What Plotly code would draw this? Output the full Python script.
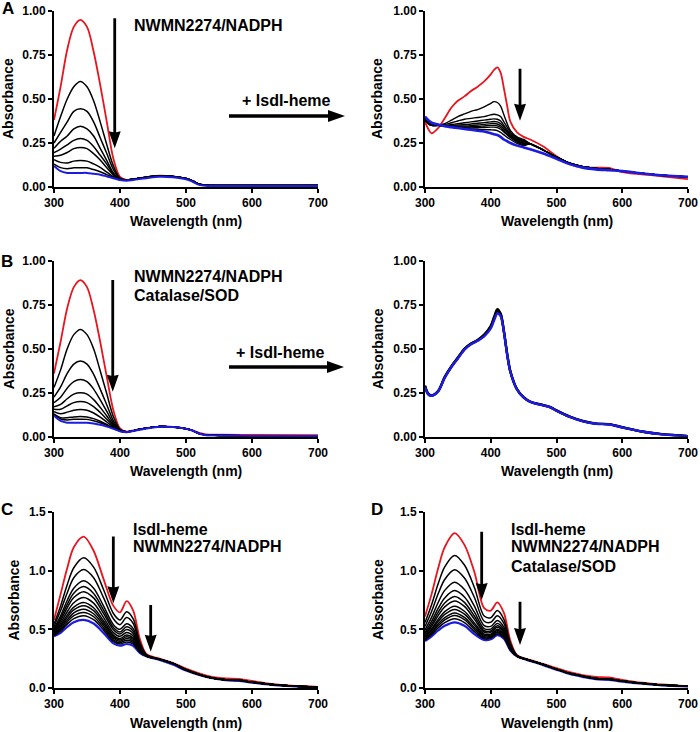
import plotly.graph_objects as go

# ---------------- DATA ----------------
# Panel A (left): NWMN2274/NADPH
wl_a1 = [300, 310, 320, 330, 340, 350, 360, 370, 380, 390, 400,
         410, 420, 440, 460, 480, 500, 510, 520, 530, 550, 600, 700]
a1_tail = [0.040, 0.045, 0.056, 0.064, 0.060, 0.048, 0.035, 0.016, 0.010, 0.008, 0.008, 0.008]
a1_blue_tail = [0.036, 0.040, 0.050, 0.058, 0.055, 0.044, 0.030, 0.012, 0.007, 0.006, 0.006, 0.006]
a1_red = [0.38, 0.57, 0.78, 0.91, 0.95, 0.91, 0.77, 0.58, 0.37, 0.16, 0.057]
a1_black = [
    [0.29, 0.40, 0.50, 0.57, 0.60, 0.57, 0.49, 0.37, 0.24, 0.12, 0.050],
    [0.25, 0.31, 0.37, 0.43, 0.445, 0.43, 0.37, 0.28, 0.19, 0.10, 0.047],
    [0.22, 0.26, 0.29, 0.33, 0.345, 0.33, 0.29, 0.22, 0.15, 0.08, 0.045],
    [0.195, 0.215, 0.24, 0.265, 0.275, 0.265, 0.23, 0.18, 0.13, 0.075, 0.044],
    [0.175, 0.18, 0.196, 0.218, 0.225, 0.218, 0.19, 0.154, 0.11, 0.069, 0.043],
    [0.155, 0.14, 0.136, 0.147, 0.15, 0.147, 0.131, 0.111, 0.085, 0.059, 0.041],
    [0.13, 0.11, 0.104, 0.109, 0.11, 0.109, 0.099, 0.087, 0.07, 0.054, 0.04],
]
a1_blue = [0.12, 0.09, 0.08, 0.08, 0.08, 0.08, 0.075, 0.07, 0.06, 0.05, 0.04]

# Panel A (right): + IsdI-heme
wl_a2 = [300, 305, 310, 320, 330, 340, 350, 360, 370, 380, 390, 400, 405, 410, 415,
         420, 425, 430, 440, 450, 460, 480, 500, 520, 540, 560, 580, 600, 650, 700]
a2_red = [0.37, 0.33, 0.305, 0.335, 0.39, 0.45, 0.49, 0.515, 0.545, 0.57,
          0.60, 0.64, 0.665, 0.68, 0.65, 0.56, 0.46, 0.37, 0.31, 0.285,
          0.27, 0.23, 0.175, 0.13, 0.11, 0.11, 0.108, 0.085, 0.065, 0.045]
a2_black = [
    [0.38, 0.36, 0.35, 0.35, 0.36, 0.38, 0.40, 0.415, 0.43, 0.44, 0.455, 0.475, 0.485, 0.48, 0.46, 0.41, 0.36, 0.32, 0.285, 0.27],
    [0.38, 0.36, 0.35, 0.35, 0.355, 0.365, 0.375, 0.385, 0.39, 0.395, 0.40, 0.41, 0.413, 0.41, 0.40, 0.37, 0.34, 0.31, 0.28, 0.265],
    [0.38, 0.36, 0.35, 0.35, 0.35, 0.355, 0.36, 0.365, 0.37, 0.375, 0.38, 0.385, 0.387, 0.385, 0.375, 0.35, 0.325, 0.30, 0.275, 0.26],
    [0.385, 0.365, 0.355, 0.35, 0.35, 0.35, 0.352, 0.355, 0.358, 0.362, 0.366, 0.37, 0.372, 0.37, 0.36, 0.34, 0.315, 0.295, 0.27, 0.255],
    [0.39, 0.37, 0.36, 0.35, 0.348, 0.346, 0.346, 0.347, 0.349, 0.352, 0.356, 0.36, 0.361, 0.358, 0.348, 0.33, 0.31, 0.29, 0.265, 0.25],
    [0.39, 0.37, 0.36, 0.35, 0.347, 0.344, 0.342, 0.341, 0.342, 0.344, 0.347, 0.35, 0.35, 0.347, 0.338, 0.32, 0.30, 0.285, 0.26, 0.245],
    [0.39, 0.372, 0.362, 0.352, 0.346, 0.342, 0.339, 0.337, 0.336, 0.337, 0.338, 0.34, 0.34, 0.337, 0.328, 0.312, 0.295, 0.28, 0.255, 0.24],
    [0.395, 0.375, 0.363, 0.353, 0.345, 0.34, 0.336, 0.333, 0.33, 0.328, 0.326, 0.325, 0.324, 0.32, 0.31, 0.296, 0.282, 0.27, 0.248, 0.235],
]
a2_black_tail = [0.245, 0.21, 0.17, 0.135, 0.115, 0.105, 0.10, 0.09, 0.07, 0.057]
a2_blue = [0.40, 0.38, 0.365, 0.355, 0.345, 0.34, 0.335, 0.33, 0.325, 0.32,
           0.315, 0.305, 0.30, 0.295, 0.285, 0.27, 0.26, 0.25, 0.235, 0.225,
           0.215, 0.19, 0.16, 0.13, 0.11, 0.10, 0.095, 0.09, 0.07, 0.058]

# Panel B (left): NWMN2274/NADPH + Catalase/SOD
wl_b1 = wl_a1
b1_red = [0.36, 0.54, 0.73, 0.85, 0.89, 0.85, 0.72, 0.54, 0.34, 0.15, 0.048]
b1_red_tail = [0.030, 0.036, 0.049, 0.058, 0.056, 0.047, 0.037, 0.022, 0.014, 0.012, 0.011, 0.010]
b1_black = [
    [0.28, 0.38, 0.50, 0.58, 0.61, 0.58, 0.50, 0.375, 0.244, 0.114, 0.043],
    [0.225, 0.283, 0.36, 0.413, 0.43, 0.413, 0.355, 0.271, 0.181, 0.091, 0.039],
    [0.194, 0.225, 0.276, 0.313, 0.325, 0.313, 0.271, 0.21, 0.144, 0.077, 0.037],
    [0.171, 0.184, 0.216, 0.242, 0.25, 0.242, 0.211, 0.167, 0.118, 0.067, 0.035],
    [0.156, 0.156, 0.176, 0.194, 0.20, 0.194, 0.171, 0.138, 0.10, 0.061, 0.034],
    [0.143, 0.131, 0.14, 0.151, 0.155, 0.151, 0.135, 0.112, 0.084, 0.055, 0.034],
    [0.13, 0.109, 0.108, 0.113, 0.115, 0.113, 0.103, 0.088, 0.07, 0.05, 0.033],
    [0.126, 0.101, 0.096, 0.099, 0.10, 0.099, 0.091, 0.08, 0.065, 0.048, 0.032],
]
b1_tail = [0.028, 0.035, 0.048, 0.058, 0.056, 0.046, 0.035, 0.018, 0.010, 0.008, 0.006, 0.005]
b1_blue = [0.12, 0.09, 0.08, 0.08, 0.08, 0.08, 0.075, 0.068, 0.058, 0.045, 0.032]
b1_blue_tail = [0.026, 0.033, 0.047, 0.057, 0.055, 0.045, 0.034, 0.017, 0.009, 0.007, 0.005, 0.004]

# Panel B (right): + IsdI-heme
wl_b2 = [300, 305, 310, 320, 330, 340, 350, 360, 370, 380, 390, 400, 405, 410, 415, 420,
         425, 430, 440, 450, 460, 480, 490, 500, 520, 540, 560, 580, 600, 630, 660, 700]
b2_red = [0.28, 0.24, 0.233, 0.258, 0.336, 0.396, 0.446, 0.496, 0.526, 0.546, 0.575, 0.62, 0.665, 0.705, 0.69, 0.596,
          0.466, 0.366, 0.268, 0.223, 0.198, 0.178, 0.168, 0.148, 0.113, 0.088, 0.074, 0.07, 0.053, 0.029, 0.014, 0.004]
b2_black = [
    [0.29, 0.245, 0.235, 0.26, 0.34, 0.40, 0.45, 0.50, 0.53, 0.55, 0.58, 0.63, 0.68, 0.725, 0.70, 0.60,
     0.47, 0.37, 0.27, 0.225, 0.20, 0.18, 0.17, 0.15, 0.115, 0.09, 0.075, 0.072, 0.055, 0.03, 0.015, 0.004],
    [0.29, 0.243, 0.234, 0.26, 0.338, 0.398, 0.448, 0.498, 0.528, 0.548, 0.577, 0.625, 0.672, 0.715, 0.695, 0.598,
     0.468, 0.368, 0.269, 0.224, 0.199, 0.179, 0.169, 0.149, 0.114, 0.089, 0.075, 0.071, 0.054, 0.03, 0.015, 0.004],
]
b2_blue = [0.28, 0.24, 0.233, 0.258, 0.335, 0.395, 0.445, 0.495, 0.525, 0.545, 0.57, 0.615, 0.66, 0.70, 0.685, 0.595,
           0.465, 0.365, 0.268, 0.222, 0.198, 0.178, 0.168, 0.148, 0.113, 0.088, 0.074, 0.07, 0.053, 0.03, 0.014, 0.004]

# Panel C: IsdI-heme + NWMN2274/NADPH
wl_c = [300, 310, 320, 330, 345, 360, 375, 390, 400, 410, 420, 430, 440,
        460, 480, 500, 520, 540, 560, 580, 600, 630, 660, 700]
c_red = [0.58, 0.80, 1.02, 1.20, 1.29, 1.17, 0.93, 0.70, 0.645, 0.74, 0.66, 0.42, 0.29,
         0.25, 0.215, 0.165, 0.125, 0.095, 0.082, 0.078, 0.06, 0.035, 0.02, 0.01]
c_black = [
    [0.545, 0.70, 0.88, 1.025, 1.11, 1.03, 0.84, 0.635, 0.58, 0.65, 0.59, 0.39, 0.285],
    [0.525, 0.66, 0.81, 0.94, 1.01, 0.94, 0.77, 0.59, 0.54, 0.60, 0.55, 0.37, 0.28],
    [0.506, 0.616, 0.746, 0.851, 0.914, 0.851, 0.70, 0.54, 0.50, 0.547, 0.506, 0.356, 0.28],
    [0.496, 0.594, 0.712, 0.808, 0.864, 0.806, 0.666, 0.516, 0.478, 0.521, 0.484, 0.348, 0.278],
    [0.488, 0.575, 0.683, 0.771, 0.821, 0.768, 0.637, 0.496, 0.46, 0.499, 0.465, 0.341, 0.277],
    [0.478, 0.554, 0.65, 0.727, 0.772, 0.723, 0.602, 0.472, 0.44, 0.474, 0.444, 0.332, 0.275],
    [0.469, 0.535, 0.621, 0.69, 0.729, 0.684, 0.573, 0.451, 0.422, 0.452, 0.425, 0.325, 0.274],
    [0.464, 0.523, 0.602, 0.665, 0.701, 0.659, 0.553, 0.438, 0.41, 0.437, 0.413, 0.32, 0.273],
    [0.458, 0.51, 0.582, 0.641, 0.672, 0.633, 0.534, 0.424, 0.398, 0.422, 0.40, 0.316, 0.273],
    [0.453, 0.498, 0.563, 0.616, 0.644, 0.608, 0.514, 0.411, 0.387, 0.408, 0.388, 0.311, 0.272],
    [0.447, 0.486, 0.544, 0.591, 0.616, 0.582, 0.495, 0.397, 0.375, 0.393, 0.376, 0.306, 0.271],
]
c_black_tail = [0.245, 0.21, 0.155, 0.115, 0.085, 0.07, 0.065, 0.05, 0.03, 0.018, 0.01]
c_blue = [0.44, 0.47, 0.52, 0.56, 0.58, 0.55, 0.47, 0.38, 0.36, 0.375, 0.36, 0.30, 0.27,
          0.24, 0.20, 0.15, 0.112, 0.083, 0.067, 0.06, 0.046, 0.027, 0.015, 0.008]

# Panel D: IsdI-heme + NWMN2274/NADPH + Catalase/SOD
wl_d = wl_c
d_red = [0.61, 0.80, 1.02, 1.20, 1.32, 1.22, 0.99, 0.68, 0.66, 0.73, 0.64, 0.40, 0.28,
         0.24, 0.205, 0.17, 0.135, 0.11, 0.095, 0.09, 0.07, 0.045, 0.03, 0.015]
d_black = [
    [0.558, 0.71, 0.888, 1.033, 1.13, 1.048, 0.858, 0.613, 0.599, 0.66, 0.585, 0.38, 0.278],
    [0.524, 0.652, 0.803, 0.925, 1.008, 0.937, 0.773, 0.569, 0.56, 0.615, 0.55, 0.367, 0.276],
    [0.495, 0.602, 0.729, 0.832, 0.902, 0.84, 0.699, 0.532, 0.525, 0.576, 0.519, 0.356, 0.275],
    [0.475, 0.568, 0.678, 0.768, 0.83, 0.775, 0.648, 0.506, 0.502, 0.549, 0.498, 0.348, 0.274],
    [0.461, 0.544, 0.644, 0.724, 0.78, 0.73, 0.614, 0.488, 0.486, 0.531, 0.484, 0.343, 0.273],
    [0.45, 0.526, 0.617, 0.691, 0.742, 0.696, 0.587, 0.475, 0.474, 0.517, 0.473, 0.339, 0.272],
    [0.438, 0.505, 0.585, 0.651, 0.697, 0.654, 0.555, 0.459, 0.459, 0.50, 0.46, 0.334, 0.272],
    [0.43, 0.492, 0.567, 0.627, 0.67, 0.63, 0.537, 0.449, 0.451, 0.49, 0.452, 0.332, 0.271],
    [0.422, 0.478, 0.546, 0.60, 0.64, 0.602, 0.516, 0.438, 0.441, 0.479, 0.443, 0.328, 0.271],
    [0.416, 0.467, 0.53, 0.58, 0.617, 0.582, 0.50, 0.43, 0.433, 0.471, 0.437, 0.326, 0.27],
    [0.408, 0.454, 0.511, 0.557, 0.59, 0.558, 0.481, 0.421, 0.425, 0.461, 0.429, 0.323, 0.27],
]
d_black_tail = [0.235, 0.20, 0.16, 0.125, 0.10, 0.08, 0.075, 0.06, 0.04, 0.025, 0.015]
d_blue = [0.40, 0.44, 0.49, 0.53, 0.56, 0.53, 0.46, 0.41, 0.415, 0.45, 0.42, 0.32, 0.27,
          0.23, 0.195, 0.155, 0.12, 0.095, 0.075, 0.07, 0.055, 0.036, 0.022, 0.013]

# tick labels
x_ticks = [300, 400, 500, 600, 700]
y_ticks_ab = [0.0, 0.25, 0.5, 0.75, 1.0]
y_ticks_cd = [0.0, 0.5, 1.0, 1.5]

# ---------------- STYLE / LAYOUT ----------------
W, H = 700, 732
RED = '#e8141e'
BLUE = '#1c1ce0'
BLACK = '#000000'
FONT = 'Liberation Sans'


def px(xp):
    return xp / W


def py(yp):
    return 1 - yp / H


col_x = {0: [px(54), px(318)], 1: [px(425), px(688)]}
row_y = {0: [py(187), py(11)], 1: [py(436.8), py(260.7)], 2: [py(688), py(512)]}

fig = go.Figure()

panels = [  # (axis index, col, row)
    (1, 0, 0), (2, 1, 0), (3, 0, 1), (4, 1, 1), (5, 0, 2), (6, 1, 2)
]


def ax(i):
    return ('x' if i == 1 else f'x{i}'), ('y' if i == 1 else f'y{i}')


def add_line(i, x, y, color, width):
    xa, ya = ax(i)
    fig.add_trace(go.Scatter(x=x, y=y, mode='lines', xaxis=xa, yaxis=ya, showlegend=False,
                             hoverinfo='skip',
                             line=dict(color=color, width=width, shape='spline', smoothing=0.9)))


# Panel A left
add_line(1, wl_a1, a1_red + a1_tail, RED, 1.8)
for row in a1_black:
    add_line(1, wl_a1, row + a1_tail, BLACK, 1.5)
add_line(1, wl_a1, a1_blue + a1_blue_tail, BLUE, 2.0)

# Panel A right
add_line(2, wl_a2, a2_red, RED, 1.8)
for row in a2_black:
    add_line(2, wl_a2, row + a2_black_tail, BLACK, 1.4)
add_line(2, wl_a2, a2_blue, BLUE, 2.6)

# Panel B left
add_line(3, wl_b1, b1_red + b1_red_tail, RED, 1.8)
for row in b1_black:
    add_line(3, wl_b1, row + b1_tail, BLACK, 1.5)
add_line(3, wl_b1, b1_blue + b1_blue_tail, BLUE, 2.0)

# Panel B right
add_line(4, wl_b2, b2_red, RED, 2.0)
for row in b2_black:
    add_line(4, wl_b2, row, BLACK, 2.4)
add_line(4, wl_b2, b2_blue, BLUE, 2.4)

# Panel C
add_line(5, wl_c, c_blue, BLUE, 2.2)
add_line(5, wl_c, c_red, RED, 1.8)
for row in c_black:
    add_line(5, wl_c, row + c_black_tail, BLACK, 1.5)

# Panel D
add_line(6, wl_d, d_blue, BLUE, 2.2)
add_line(6, wl_d, d_red, RED, 1.8)
for row in d_black:
    add_line(6, wl_d, row + d_black_tail, BLACK, 1.5)

tickfont = dict(family=FONT, size=12, color='black', weight='bold')
layout = dict(width=W, height=H, margin=dict(l=0, r=0, t=0, b=0, pad=0, autoexpand=False),
              paper_bgcolor='white', plot_bgcolor='white', showlegend=False)

for i, c, r in panels:
    xk = 'xaxis' if i == 1 else f'xaxis{i}'
    yk = 'yaxis' if i == 1 else f'yaxis{i}'
    xa, ya = ax(i)
    layout[xk] = dict(domain=col_x[c], anchor=ya, range=[300, 700], tickvals=x_ticks,
                      showline=True, linecolor='black', linewidth=2, ticks='outside',
                      ticklen=4, tickwidth=2, tickcolor='black', showgrid=False,
                      zeroline=False, tickfont=tickfont, fixedrange=True, automargin=False)
    if r < 2:
        layout[yk] = dict(domain=row_y[r], anchor=xa, range=[0, 1.0], tickvals=y_ticks_ab,
                          tickformat='.2f')
    else:
        layout[yk] = dict(domain=row_y[r], anchor=xa, range=[0, 1.5], tickvals=y_ticks_cd,
                          tickformat='.1f')
    layout[yk].update(showline=True, linecolor='black', linewidth=2, ticks='outside',
                      ticklen=4, tickwidth=2, tickcolor='black', showgrid=False,
                      zeroline=False, tickfont=tickfont, fixedrange=True, automargin=False)

fig.update_layout(**layout)

annotations = []
tfont = dict(family=FONT, size=14, color='black', weight='bold')
# axis titles
title_x_px = {1: 8, 2: 377, 3: 8.5, 4: 377.5, 5: 13.5, 6: 378}
for i, c, r in panels:
    ymid = (row_y[r][0] + row_y[r][1]) / 2
    annotations.append(dict(text='Absorbance', x=px(title_x_px[i]), y=ymid, xref='paper', yref='paper',
                            textangle=-90, showarrow=False, font=tfont,
                            xanchor='center', yanchor='middle'))
    xmid = (col_x[c][0] + col_x[c][1]) / 2
    axis_px = {0: 187, 1: 436.8, 2: 688}[r]
    annotations.append(dict(text='Wavelength (nm)', x=xmid, y=py(axis_px + 34.5), xref='paper', yref='paper',
                            showarrow=False, font=tfont, xanchor='center', yanchor='middle'))

# panel letters
lfont = dict(family=FONT, size=17, color='black', weight='bold')
for letter, xl, yl in [('A', 7.5, 8), ('B', 7, 261), ('C', 7, 509.5), ('D', 377, 509.5)]:
    annotations.append(dict(text=letter, x=px(xl), y=py(yl), xref='paper', yref='paper',
                            showarrow=False, font=lfont, xanchor='center', yanchor='middle'))

# condition labels (data coordinates of each panel)
cfont = dict(family=FONT, size=16, color='black', weight='bold')
labels = [
    (1, 418, 0.92, 'NWMN2274/NADPH'),
    (3, 418, 0.909, 'NWMN2274/NADPH'),
    (3, 418, 0.805, 'Catalase/SOD'),
    (5, 416.7, 1.355, 'IsdI-heme'),
    (5, 416.7, 1.202, 'NWMN2274/NADPH'),
    (6, 428.2, 1.355, 'IsdI-heme'),
    (6, 428.2, 1.202, 'NWMN2274/NADPH'),
    (6, 428.2, 1.034, 'Catalase/SOD'),
]
for i, xv, yv, t in labels:
    xa, ya = ax(i)
    annotations.append(dict(text=t, x=xv, y=yv, xref=xa, yref=ya, showarrow=False, font=cfont,
                            xanchor='left', yanchor='middle'))

# "+ IsdI-heme" between columns
for xc, yc in [(286, 100.7), (280, 352.7)]:
    annotations.append(dict(text='+ IsdI-heme', x=px(xc), y=py(yc), xref='paper', yref='paper',
                            showarrow=False, font=cfont, xanchor='center', yanchor='middle'))

fig.update_layout(annotations=annotations)

# arrows drawn as filled polygons (pixel sized, anchored at the tip)
HEAD_L, HEAD_W = 17, 12


def down_arrow(i, x, ytip, length, shaft=2.8):
    xa, ya = ax(i)
    s, w, h = shaft / 2, HEAD_W / 2, HEAD_L
    path = (f"M {-s},{h - 1} L {-s},{length} L {s},{length} L {s},{h - 1} "
            f"L {w},{h} L 0,0 L {-w},{h} Z")
    fig.add_shape(type='path', xref=xa, yref=ya, xsizemode='pixel', ysizemode='pixel',
                  xanchor=x, yanchor=ytip, path=path, fillcolor='black', line=dict(width=0))


def right_arrow(xtip_px, y_px, length, shaft=3.6):
    s, w, h = shaft / 2, HEAD_W / 2, HEAD_L
    path = (f"M 0,0 L {-h},{w} L {-h},{s} L {-length},{s} L {-length},{-s} "
            f"L {-h},{-s} L {-h},{-w} Z")
    fig.add_shape(type='path', xref='paper', yref='paper', xsizemode='pixel', ysizemode='pixel',
                  xanchor=px(xtip_px), yanchor=py(y_px), path=path, fillcolor='black',
                  line=dict(width=0))


down_arrows = [  # (panel, wavelength, tip absorbance, length px)
    (1, 392, 0.22, 130),
    (2, 444.5, 0.377, 52),
    (3, 389, 0.256, 111.7),
    (5, 389.9, 0.722, 66.7),
    (5, 446.5, 0.309, 46.7),
    (6, 386.2, 0.75, 68.3),
    (6, 444.5, 0.366, 43.3),
]
for a in down_arrows:
    down_arrow(*a)
right_arrow(345, 116, 116)
right_arrow(344, 367, 115)

fig.write_html(
    "out.html",
    config={'displayModeBar': False},
    post_script="document.body.style.margin='0';document.body.style.overflow='hidden';"
)
